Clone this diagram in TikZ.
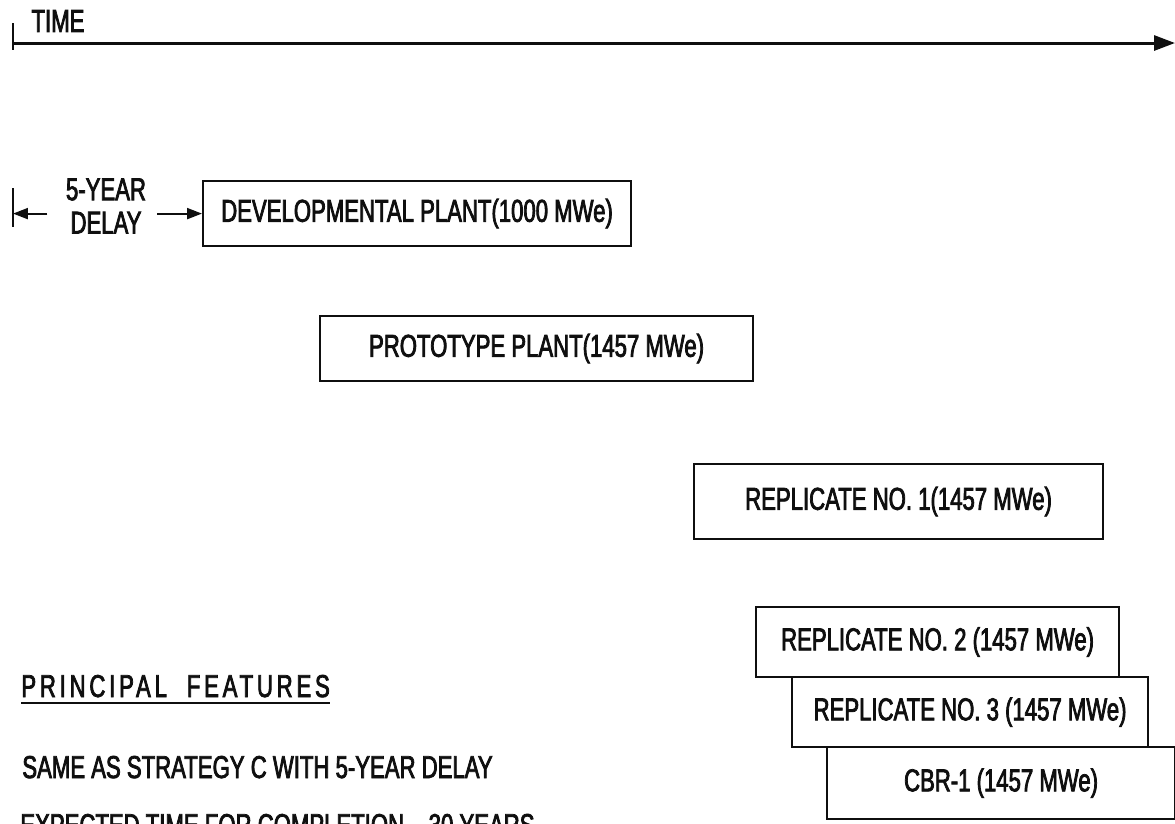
\documentclass[tikz,border=0pt]{standalone}
\usepackage{fontspec}
\setmainfont{Liberation Sans}[FakeStretch=0.7, FakeBold=2.4]
\usepackage{tikz}
\usetikzlibrary{arrows.meta}
\definecolor{inkblack}{RGB}{15,15,15}

\begin{document}
\begin{tikzpicture}[x=0.02cm, y=-0.02cm,
    every node/.style={font=\fontsize{18}{20}\selectfont, text=inkblack},
    plantbox/.style={draw=inkblack, line width=1.25pt, anchor=north west, inner sep=0pt, align=center},
    delayarrow/.style={-{Triangle[length=0.3cm, width=0.22cm]}, line width=1.2pt, draw=inkblack}]
    \useasboundingbox (0,0) rectangle (1175,823);

    % Time axis
    \coordinate (tstart) at (13,43);
    \coordinate (tend) at (1175,43);
    \draw[line width=1.25pt, draw=inkblack] (13,23) -- (13,50);
    \draw[-{Triangle[length=0.42cm, width=0.3cm]}, line width=1.7pt, draw=inkblack] (tstart) -- (tend);
    \node (timelbl) at (58,21) {TIME};

    % Plant boxes, placed along the time axis
    \node[plantbox, minimum width=8.56cm, minimum height=1.3cm] (dev) at (202,180) {DEVELOPMENTAL PLANT(1000 MWe)};
    \node[plantbox, minimum width=8.66cm, minimum height=1.3cm] (proto) at (319,315) {PROTOTYPE PLANT(1457 MWe)};
    \node[plantbox, minimum width=8.18cm, minimum height=1.5cm] (rep1) at (693,463) {REPLICATE NO. 1(1457 MWe)};
    \node[plantbox, minimum width=7.26cm, minimum height=1.4cm] (rep2) at (755,606) {REPLICATE NO. 2 (1457 MWe)};
    \node[plantbox, minimum width=7.12cm, minimum height=1.4cm] (rep3) at (791,676) {REPLICATE NO. 3 (1457 MWe)};
    \node[plantbox, minimum width=6.96cm, minimum height=1.44cm] (cbr) at (826,746) {CBR-1 (1457 MWe)};

    % 5-year delay marker
    \coordinate (delaystart) at (13,0 |- dev.west);
    \draw[line width=1.25pt, draw=inkblack] (13,188) -- (13,227);
    \node[align=center, font=\fontsize{18}{19}\selectfont] (delay) at (106,206) {5-YEAR\\DELAY};
    \draw[delayarrow] ([xshift=-0.25cm]delay.west |- dev.west) -- (delaystart);
    \draw[delayarrow] ([xshift=0.1cm]delay.east |- dev.west) -- (dev.west);

    % Principal features
    \node[anchor=base west, inner sep=0pt, font=\fontsize{18}{20}\selectfont\addfontfeature{LetterSpace=12}] (feat) at (21,697) {PRINCIPAL\ \ FEATURES};
    \draw[line width=1.25pt, draw=inkblack] ([yshift=-0.1cm]feat.south west) -- ([yshift=-0.1cm]feat.south east);
    \node[anchor=base west, inner sep=0pt] (same) at (22,778) {SAME AS STRATEGY C WITH 5-YEAR DELAY};
    \node[anchor=base west, inner sep=0pt] (expect) at (20,836) {EXPECTED TIME FOR COMPLETION -- 30 YEARS};
\end{tikzpicture}
\end{document}
